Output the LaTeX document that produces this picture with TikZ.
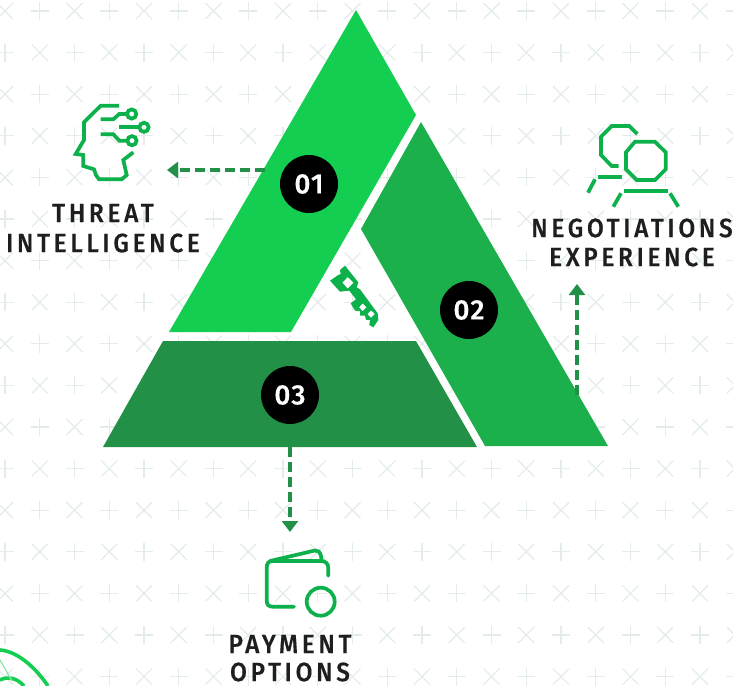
\documentclass[tikz,border=0pt]{standalone}
\usepackage{fontspec}
\usetikzlibrary{arrows.meta}
\newfontfamily\labfont[LetterSpace=14,FakeStretch=0.92,FakeBold=0.3]{Fira Sans Medium}
\newfontfamily\numfont[LetterSpace=4,FakeBold=0.4]{Fira Sans Medium}
\definecolor{pa}{HTML}{14CE51}
\definecolor{pb}{HTML}{1BB04B}
\definecolor{pc}{HTML}{239047}
\definecolor{ico}{HTML}{0DB14B}
\definecolor{gridc}{HTML}{E3ECE8}
\definecolor{txt}{HTML}{1E1E1E}
\tikzset{
  gridmark/.style={gridc,line width=1.2pt},
  icon/.style={ico,line width=3.7pt,line join=miter},
  num/.style={circle,fill=black,text=white,minimum size=58pt,inner sep=0pt,font=\numfont\fontsize{28}{28}\selectfont},
  lab/.style={text=txt,inner sep=0pt,anchor=center,font=\labfont\fontsize{26.5}{26.5}\selectfont},
  link/.style={pc,line width=3.6pt,dash pattern=on 10pt off 5pt,-{Triangle[length=11pt,width=16pt]}}
}
\begin{document}
\begin{tikzpicture}[x=1pt,y=-1pt]
\useasboundingbox (0,0) rectangle (733,685);
\clip (0,0) rectangle (733,685);
\fill[white] (0,0) rectangle (733,685);
% background marks
\foreach \r in {0,...,16}{
  \foreach \k in {0,...,21}{
    \pgfmathsetmacro{\cx}{5+34.75*\k}
    \pgfmathsetmacro{\cy}{11+41.6*\r}
    \pgfmathtruncatemacro{\parity}{mod(\r+\k,2)}
    \ifnum\parity=1
      \draw[gridmark] (\cx-9,\cy) -- (\cx+9,\cy) (\cx,\cy-9) -- (\cx,\cy+9);
    \else
      \draw[gridmark] (\cx-8,\cy-8) -- (\cx+8,\cy+8) (\cx-8,\cy+8) -- (\cx+8,\cy-8);
    \fi
  }
}
% triangle pieces
\fill[pa] (356,10) -- (416,115) -- (291,332) -- (169,332) -- cycle;
\fill[pb] (421,122) -- (608,446) -- (485,446) -- (361,229) -- cycle;
\fill[pc] (163,341) -- (416,341) -- (477,447) -- (103,447) -- cycle;
% number badges
\node[num] (n1) at (309,184) {01};
\node[num] (n2) at (469,310) {02};
\node[num] (n3) at (290,395) {03};
% labels
\node[lab] (t1a) at (103,213) {THREAT};
\node[lab] (t1b) at (103,243) {INTELLIGENCE};
\node[lab] (t2a) at (632,228) {NEGOTIATIONS};
\node[lab] (t2b) at (632,257) {EXPERIENCE};
\node[lab] (t3a) at (290,644) {PAYMENT};
\node[lab] (t3b) at (290,672) {OPTIONS};
% connector ends
\coordinate (a1s) at (265,170);
\coordinate (a1e) at (167,170);
\coordinate (a2s) at (577,395);
\coordinate (a2e) at (577,284);
\coordinate (a3s) at (290,447);
\coordinate (a3e) at (290,532);
\draw[link] (a1s) -- (a1e);
\draw[link] (a2s) -- (a2e);
\draw[link] (a3s) -- (a3e);
% head icon
\draw[icon] (119,105.7) -- (100.7,105.7) -- (84,122.3) -- (84,140) -- (75.7,154) -- (83.3,155) -- (83.3,166) -- (94,169.3) -- (96,175) -- (99,179.3) -- (121.7,179.3) -- (126.7,175) -- (123.3,160) -- (133.3,152.3);
\draw[icon] (100.7,119.3) -- (113.3,119.3) -- (119.3,114) -- (126.7,114);
\draw[icon] (131.7,114) circle (4.6);
\draw[icon] (119.3,127.3) -- (138.8,127.3);
\draw[icon] (144,127.3) circle (4.6);
\draw[icon] (100.7,134.3) -- (113.3,134.3) -- (119.3,140.7) -- (126.7,140.7);
\draw[icon] (132,140.7) circle (4.6);
% negotiation icon
\draw[icon] (637.3,134) -- (629.3,126) -- (611.7,126) -- (601,136.7) -- (601,155) -- (611.7,166) -- (618.7,166);
\draw[icon] (635,141.7) -- (655,141.7) -- (665.7,152.3) -- (665.7,169.3) -- (655,180) -- (636.7,180) -- (626,169.3) -- (626,152.3) -- cycle;
\draw[icon] (588,192.7) -- (595,179.3);
\draw[icon] (598.3,176.7) -- (621.7,176.7);
\draw[icon] (613.3,206.7) -- (621,193.3);
\draw[icon] (624,191) -- (667.7,191);
\draw[icon] (670,193.3) -- (678.3,206.7);
% wallet icon
\draw[icon,line cap=round] (294,606.7) -- (273,606.7) .. controls (268.5,606.7) and (266.7,605) .. (266.7,600) -- (266.7,568) .. controls (266.7,563) and (268.5,561) .. (273,561) -- (321,561) .. controls (326,561) and (328.3,564) .. (328.3,568) -- (328.3,575.7);
\draw[icon,line cap=round] (270,561) -- (315,550.5) .. controls (318,550) and (320,552) .. (321,556) -- (321.7,561);
\draw[icon] (320.7,601.7) circle (14);
% key
\begin{scope}[shift={(310,250)},x=0.3333pt,y=-0.3333pt]
\fill[ico,even odd rule] (60,92) -- (85,75) -- (92,72) -- (90,60) -- (105,47) -- (145,97) -- (140,112) -- (150,118) -- (203,190) -- (205,210) -- (190,232) -- (178,225) -- (180,210) -- (168,210) -- (165,197) -- (150,197) -- (150,183) -- (135,182) -- (122,160) -- (138,148) -- (118,122) -- (90,125) -- cycle
 (113,81) -- (131,98) -- (113,116) -- (97,98) -- cycle
 (158,160) -- (170,172) -- (158,184) -- (147,172) -- cycle
 (183,181) -- (195,192) -- (183,204) -- (172,192) -- cycle;
\end{scope}
% corner fragment
\draw[pa,line width=3.6pt] (0,650) .. controls (15,651) and (33,664) .. (48,686);
\draw[pa,line width=3.6pt] (0,680) .. controls (8,676) and (17,678) .. (24,686);
\draw[pa!50,line width=1.2pt] (0,660) -- (12,681);
\end{tikzpicture}
\end{document}
